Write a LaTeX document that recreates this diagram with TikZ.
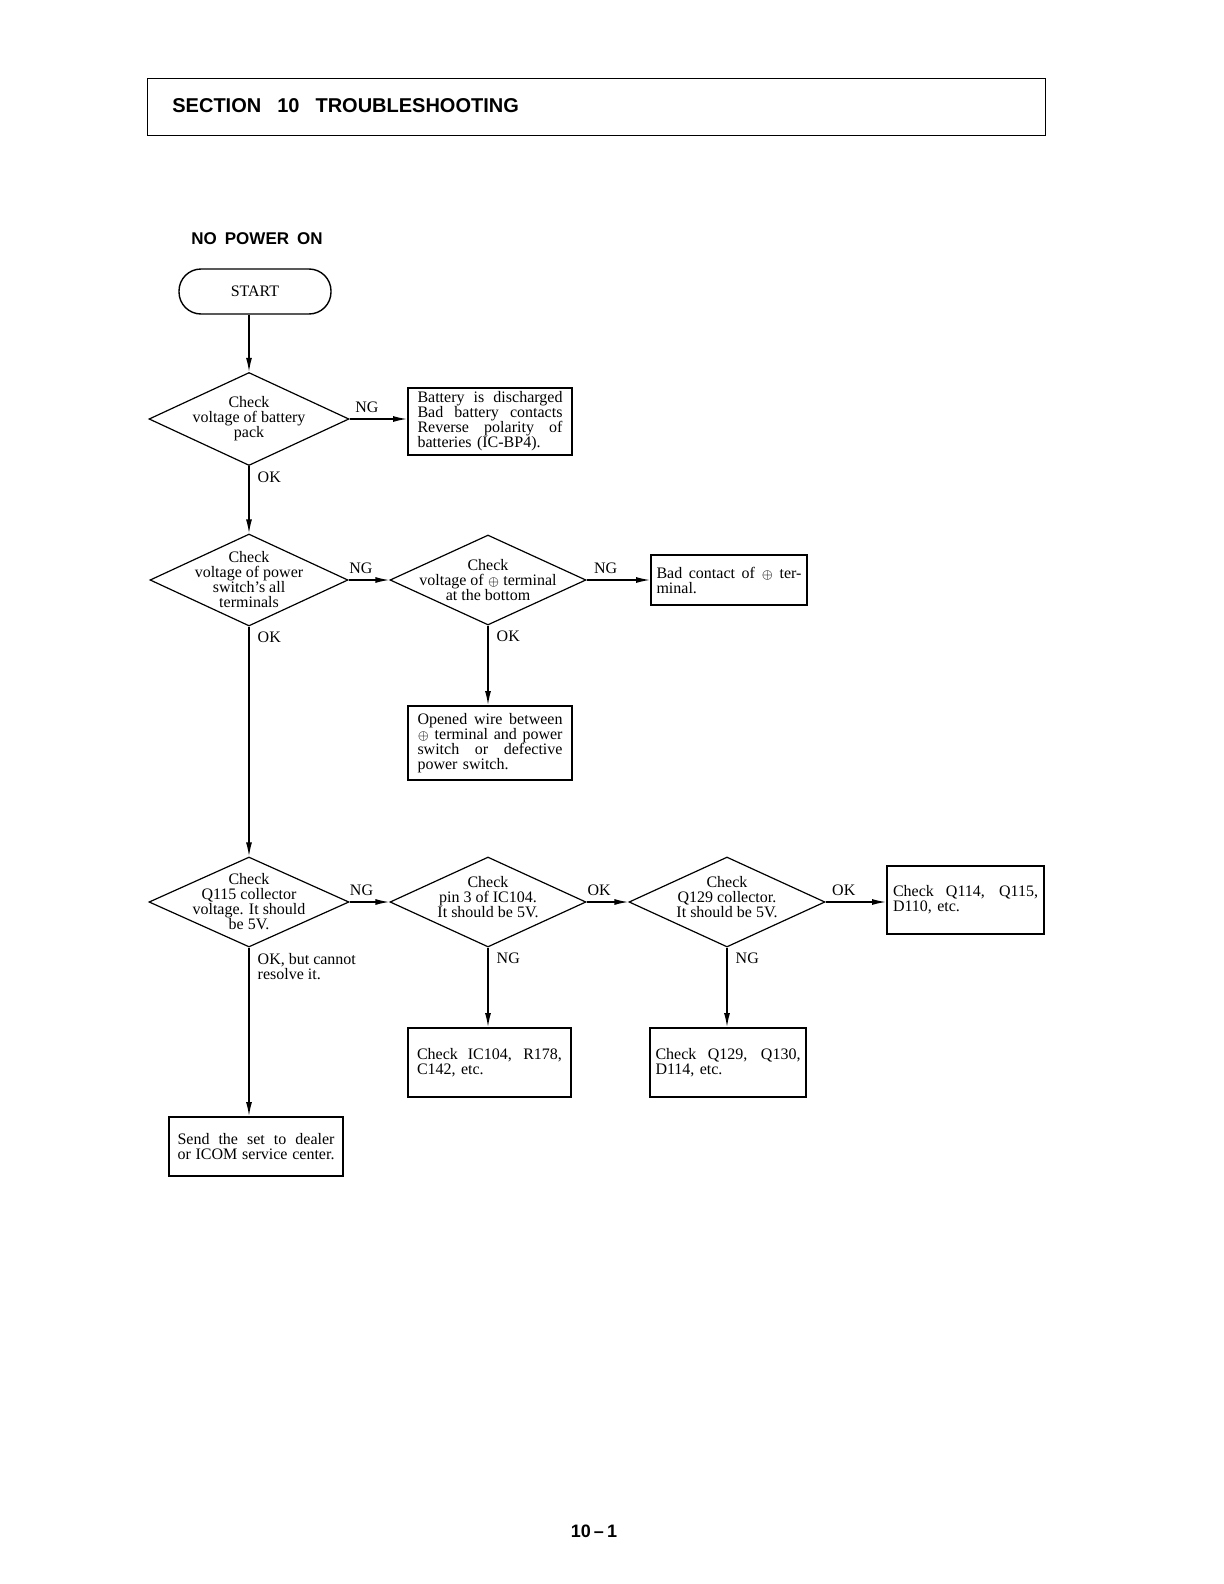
\documentclass[tikz,border=0pt]{standalone}
\usepackage{fontspec}
\setmainfont{Liberation Serif}
\newfontfamily\headfont{Liberation Sans}
\usetikzlibrary{shapes.geometric,arrows.meta}
\newcommand{\txt}{\fontsize{8}{7.5}\selectfont}
\newcommand{\jline}[2][72.5pt]{\makebox[#1][s]{\spaceskip=.25em plus 2em\relax #2}}
\newcommand{\plusterm}{{\fontsize{6}{6}\selectfont$\oplus$}}
\begin{document}
\begin{tikzpicture}[x=0.5pt,y=-0.5pt,
  check/.style={diamond,draw,line width=.6pt,inner sep=0pt,minimum width=98pt,minimum height=45pt},
  ctext/.style={align=center,font=\txt,inner sep=0pt},
  result/.style={draw,line width=.9pt,text width=72.5pt,align=left,inner ysep=0pt,font=\txt},
  flow/.style={-{Latex[length=7pt,width=3pt]},line width=.7pt},
  hlbl/.style={font=\txt,inner sep=0pt,anchor=south,yshift=3pt},
  vlbl/.style={font=\txt,inner sep=0pt,anchor=north west,xshift=4pt,yshift=-2.5pt,align=left}]
  \useasboundingbox (0,0) rectangle (1224,1584);
  \node[draw,line width=.6pt,anchor=north west,minimum width=449pt,minimum height=28.5pt,inner sep=0pt] (sect) at (147,78) {};
  \node[anchor=west,inner sep=0pt,font=\headfont\bfseries\fontsize{10}{12}\selectfont] (secttext) at (172,106) {SECTION\hspace{8pt}10\hspace{8pt}TROUBLESHOOTING};
  \node[anchor=west,inner sep=0pt,font=\headfont\bfseries\fontsize{8.5}{10}\selectfont] (title) at (191,239) {NO\hspace{4pt}POWER\hspace{4pt}ON};
  \node[draw,line width=.7pt,rounded corners=11pt,minimum width=76pt,minimum height=22.5pt,font=\txt] (start) at (255,291.5) {START};
  \node[check,minimum width=100pt,minimum height=46.5pt] (bat) at (249,419) {};
  \node[ctext] (battext) at (bat) {Check\\voltage of battery\\pack};
  \node[check,minimum width=99pt,minimum height=46pt] (sw) at (249,580) {};
  \node[ctext] (swtext) at (sw) {Check\\voltage of power\\switch's all\\terminals};
  \node[check] (term) at (488,580) {};
  \node[ctext] (termtext) at (term) {Check\\voltage of \plusterm\ terminal\\at the bottom};
  \node[check,minimum width=100pt] (qcol) at (249,902) {};
  \node[ctext] (qcoltext) at (qcol) {Check\\Q115 collector\\voltage. It should\\be 5V.};
  \node[check] (pin) at (488,902) {};
  \node[ctext,yshift=2.5pt] (pintext) at (pin) {Check\\pin 3 of IC104.\\It should be 5V.};
  \node[check] (qnext) at (727,902) {};
  \node[ctext,yshift=2.5pt] (qnexttext) at (qnext) {Check\\Q129 collector.\\It should be 5V.};
  \node[result,inner xsep=4.75pt,minimum height=33.5pt] (batres) at (490,421.5) {\jline{Battery is discharged}\\\jline{Bad battery contacts}\\\jline{Reverse polarity of}\\batteries (IC-BP4).};
  \node[result,inner xsep=2.75pt,minimum height=25pt] (termres) at (729,580) {\jline{Bad contact of \plusterm\ ter-}\\minal.};
  \node[result,inner xsep=4.75pt,minimum height=37pt] (wireres) at (490,743) {\jline{Opened wire between}\\\jline{\plusterm\ terminal and power}\\\jline{switch or defective}\\power switch.};
  \node[result,inner xsep=3pt,minimum height=34pt] (qres) at (965.5,900) {\jline{Check Q114, Q115,}\\D110, etc.};
  \node[result,inner xsep=4.5pt,minimum height=34.5pt] (icres) at (489.5,1062.5) {\jline{Check IC104, R178,}\\C142, etc.};
  \node[result,inner xsep=2.75pt,minimum height=34.5pt] (dres) at (728,1062.5) {\jline{Check Q129, Q130,}\\D114, etc.};
  \node[result,text width=78.5pt,inner xsep=4.25pt,minimum height=29.5pt] (dealer) at (256,1146.5) {\jline[78.5pt]{Send the set to dealer}\\\jline[78.5pt]{or ICOM service center.}};
  \draw[flow] (bat.north |- start.south) -- (bat.north);
  \draw[flow] (bat.east) -- node[hlbl,pos=.3] (ng1) {NG} (bat.east -| batres.west);
  \draw[flow] (bat.south) -- node[vlbl,pos=0] (ok1) {OK} (sw.north);
  \draw[flow] (sw.east) -- node[hlbl,pos=.3] (ng2) {NG} (term.west);
  \draw[flow] (term.east) -- node[hlbl,pos=.3] (ng3) {NG} (termres.west);
  \draw[flow] (term.south) -- node[vlbl,pos=0] (ok3) {OK} (term.south |- wireres.north);
  \draw[flow] (sw.south) -- node[vlbl,pos=0] (ok2) {OK} (qcol.north);
  \draw[flow] (qcol.east) -- node[hlbl,pos=.3] (ng4) {NG} (pin.west);
  \draw[flow] (pin.east) -- node[hlbl,pos=.3] (ok5) {OK} (qnext.west);
  \draw[flow] (qnext.east) -- node[hlbl,pos=.3] (ok6) {OK} (qnext.east -| qres.west);
  \draw[flow] (pin.south) -- node[vlbl,pos=0] (ng5) {NG} (pin.south |- icres.north);
  \draw[flow] (qnext.south) -- node[vlbl,pos=0] (ng6) {NG} (qnext.south |- dres.north);
  \draw[flow] (qcol.south) -- node[vlbl,pos=0] (ok4) {OK, but cannot\\resolve it.} (qcol.south |- dealer.north);
  \node[inner sep=0pt,font=\headfont\bfseries\fontsize{9}{11}\selectfont] (page) at (594,1531) {10\,\textendash\,1};
\end{tikzpicture}
\end{document}
